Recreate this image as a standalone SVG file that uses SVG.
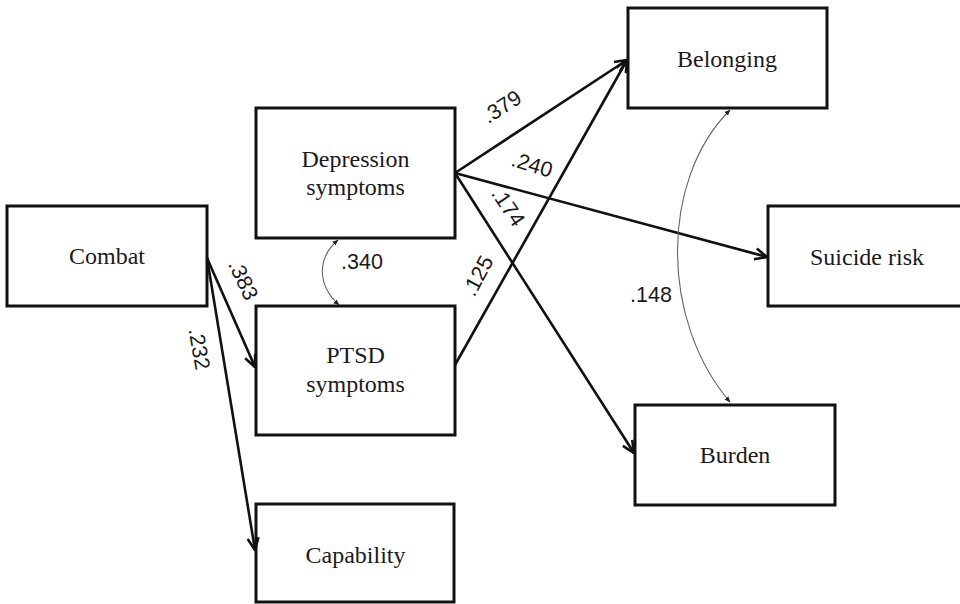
<svg xmlns="http://www.w3.org/2000/svg" width="960" height="604" viewBox="0 0 960 604">
<style>
.box{fill:#fff;stroke:#111;stroke-width:3}
.lbl{font-family:"Liberation Serif","Times New Roman",serif;font-size:24px;fill:#1a1a1a;text-anchor:middle}
.coef{font-family:"Liberation Sans",Arial,sans-serif;font-size:21.5px;fill:#1a1a1a;text-anchor:middle;dominant-baseline:central}
.path{fill:none;stroke:#111;stroke-width:2.6;marker-end:url(#arr)}
.cov{fill:none;stroke:#666;stroke-width:1.1;marker-start:url(#sm);marker-end:url(#sm)}
</style>
<defs>
<marker id="arr" viewBox="0 0 14 14" refX="13" refY="7" markerWidth="14" markerHeight="14" markerUnits="userSpaceOnUse" orient="auto">
<path d="M1,1.5 L13,7 L1,12.5" fill="none" stroke="#111" stroke-width="2.6"/>
</marker>
<marker id="sm" viewBox="0 0 6 6" refX="5.5" refY="3" markerWidth="6" markerHeight="6" markerUnits="userSpaceOnUse" orient="auto-start-reverse">
<path d="M0,0.5 L6,3 L0,5.5 Z" fill="#222"/>
</marker>
</defs>
<rect width="960" height="604" fill="#fff"/>
<g id="belonging"><rect class="box" x="628" y="8" width="199" height="100"/><text class="lbl" x="727" y="67">Belonging</text></g>
<g id="depression"><rect class="box" x="256" y="108" width="199" height="130"/><text class="lbl" x="355.5" y="167">Depression</text><text class="lbl" x="355.5" y="195">symptoms</text></g>
<g id="combat"><rect class="box" x="7" y="206" width="200" height="100"/><text class="lbl" x="107" y="264">Combat</text></g>
<g id="suicide"><rect class="box" x="768" y="206" width="210" height="100"/><text class="lbl" x="867" y="265">Suicide risk</text></g>
<g id="ptsd"><rect class="box" x="256" y="306" width="199" height="129"/><text class="lbl" x="355.5" y="363">PTSD</text><text class="lbl" x="355.5" y="392">symptoms</text></g>
<g id="burden"><rect class="box" x="635" y="405" width="200" height="100"/><text class="lbl" x="735" y="463">Burden</text></g>
<g id="capability"><rect class="box" x="256" y="504" width="198" height="98"/><text class="lbl" x="355.5" y="563">Capability</text></g>
<g id="connectors">
<path class="path" d="M207,258 L255,367"/>
<path class="path" d="M207,258 L255,550"/>
<path class="path" d="M455,173 L627,60"/>
<path class="path" d="M455,173 L767,257"/>
<path class="path" d="M455,173 L634,453"/>
<path class="path" d="M455,365 L627,60"/>
<path class="cov" d="M338,240 C317,258 317,285 339,305"/>
<path class="cov" d="M730,110 C660,180 660,320 730,402"/>
</g>
<g id="labels">
<text class="coef" transform="translate(502,107) rotate(-33)">.379</text>
<text class="coef" transform="translate(532,165) rotate(17)">.240</text>
<text class="coef" transform="translate(508,207) rotate(56)">.174</text>
<text class="coef" transform="translate(478,276) rotate(-62)">.125</text>
<text class="coef" transform="translate(243,280) rotate(65)">.383</text>
<text class="coef" transform="translate(199,349) rotate(80)">.232</text>
<text class="coef" x="362" y="262">.340</text>
<text class="coef" x="651" y="295">.148</text>
</g>
</svg>
